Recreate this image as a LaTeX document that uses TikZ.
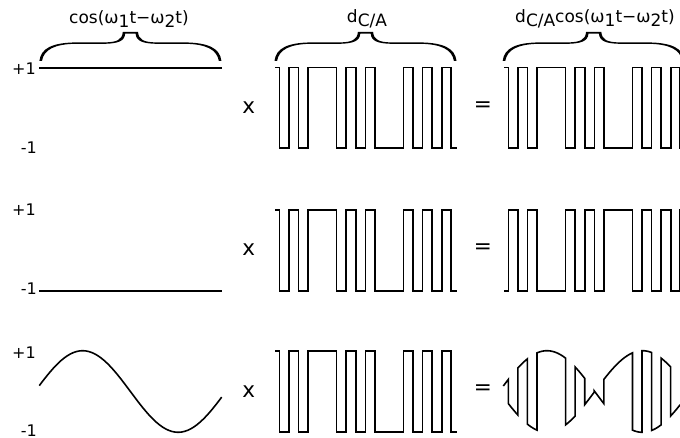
\documentclass[tikz,border=0pt]{standalone}
\usepackage{fontspec}
\setmainfont{DejaVu Sans}
\newcommand{\lowtxt}[1]{\raisebox{-4pt}{#1}}
\tikzset{
  wave/.style={line width=1.6pt,line join=miter,black},
  smp/.style={samples=12,smooth},
  lab/.style={inner sep=0pt,font=\fontsize{17}{20}\selectfont,anchor=base},
  axislab/.style={inner sep=0pt,font=\fontsize{16}{18}\selectfont,anchor=base east},
  opsym/.style={inner sep=0pt,font=\fontsize{21.5}{24}\selectfont,anchor=center},
  pics/curly/.style={code={
    \fill[black] (-91,28.6) .. controls (-89.5,16) and (-78,10.6) .. (-55,10.2) -- (-25,10.2)
      .. controls (-14,9.8) and (-8.2,8) .. (-7.6,-0.4) -- (7.6,-0.4)
      .. controls (8.2,8) and (14,9.8) .. (25,10.2) -- (55,10.2)
      .. controls (78,10.6) and (89.5,16) .. (91,28.6) -- (88.4,28.6)
      .. controls (86.5,17.5) and (76,12) .. (55,11.6) -- (25,11.6)
      .. controls (12.5,11.2) and (5.8,9) .. (5.2,1.5) -- (-5.2,1.5)
      .. controls (-5.8,9) and (-12.5,11.2) .. (-25,11.6) -- (-55,11.6)
      .. controls (-76,12) and (-86.5,17.5) .. (-88.4,28.6) -- cycle;
  }}
}
\newcommand{\codewave}[3]{%
  \draw[wave,xshift=#1pt] (275,#2) -- (279.3,#2) -- (279.3,#3) -- (288.9,#3) -- (288.9,#2) -- (298.4,#2) -- (298.4,#3) -- (308,#3) -- (308,#2) -- (336.6,#2) -- (336.6,#3) -- (346.2,#3) -- (346.2,#2) -- (355.7,#2) -- (355.7,#3) -- (365.3,#3) -- (365.3,#2) -- (374.8,#2) -- (374.8,#3) -- (403.5,#3) -- (403.5,#2) -- (413,#2) -- (413,#3) -- (422.6,#3) -- (422.6,#2) -- (432.1,#2) -- (432.1,#3) -- (441.7,#3) -- (441.7,#2) -- (451.2,#2) -- (451.2,#3) -- (457,#3);}
\begin{document}
\begin{tikzpicture}[x=1pt,y=-1pt,
  declare function={up(\t)=391.5-40.8*sin((\t-499.2)*1.88482);
                    dn(\t)=391.5+40.8*sin((\t-499.2)*1.88482);}]
\clip (0,0) rectangle (680,438);
\fill[white] (0,0) rectangle (680,438);
% braces
\pic at (130.4,32.2) {curly};
\pic at (365.5,32.2) {curly};
\pic at (593.7,32.2) {curly};
% titles
\node[lab] (t1) at (129,23.3) {cos(ω\lowtxt{1}t−ω\lowtxt{2}t)};
\node[lab] (t2) at (367,22.7) {d\lowtxt{C/A}};
\node[lab] (t3) at (595,22.7) {d\lowtxt{C/A}cos(ω\lowtxt{1}t−ω\lowtxt{2}t)};
% axis labels
\node[axislab] (p1) at (36,75) {+1};
\node[axislab] (m1) at (37,154) {-1};
\node[axislab] (p2) at (36,216) {+1};
\node[axislab] (m2) at (37,295) {-1};
\node[axislab] (p3) at (36,358) {+1};
\node[axislab] (m3) at (37,436) {-1};
% operators
\node[opsym] (x1) at (248.7,107.5) {x};
\node[opsym] (x2) at (248.7,250) {x};
\node[opsym] (x3) at (248.7,391.7) {x};
\node[opsym] (e1) at (483,106.7) {=};
\node[opsym] (e2) at (483,248.7) {=};
\node[opsym] (e3) at (483,389.5) {=};
% left signals
\draw[wave] (39.3,68.3) -- (221.7,68.3);
\draw[wave] (39.3,291) -- (221.7,291);
\draw[wave] plot[domain=39.3:221.7,samples=60,smooth] (\x,{391.5-40.8*sin((\x-34.9)*1.88482)});
% code signals
\codewave{0}{67.7}{148.3}
\codewave{0}{210}{291}
\codewave{0}{350.7}{432}
\codewave{229}{67.7}{148.3}
\codewave{229}{291}{210}
% product
\draw[wave] plot[domain=503.3:508.3,smp] (\x,{up(\x)})
 -- plot[domain=508.3:517.85,smp] (\x,{dn(\x)})
 -- plot[domain=517.85:527.4,smp] (\x,{up(\x)})
 -- plot[domain=527.4:536.95,smp] (\x,{dn(\x)})
 -- plot[domain=536.95:565.6,smp] (\x,{up(\x)})
 -- plot[domain=565.6:575.15,smp] (\x,{dn(\x)})
 -- plot[domain=575.15:584.7,smp] (\x,{up(\x)})
 -- plot[domain=584.7:594.25,smp] (\x,{dn(\x)})
 -- plot[domain=594.25:603.8,smp] (\x,{up(\x)})
 -- plot[domain=603.8:632.45,smp] (\x,{dn(\x)})
 -- plot[domain=632.45:642,smp] (\x,{up(\x)})
 -- plot[domain=642:651.55,smp] (\x,{dn(\x)})
 -- plot[domain=651.55:661.1,smp] (\x,{up(\x)})
 -- plot[domain=661.1:670.65,smp] (\x,{dn(\x)})
 -- plot[domain=670.65:680.2,smp] (\x,{up(\x)});
\end{tikzpicture}
\end{document}
